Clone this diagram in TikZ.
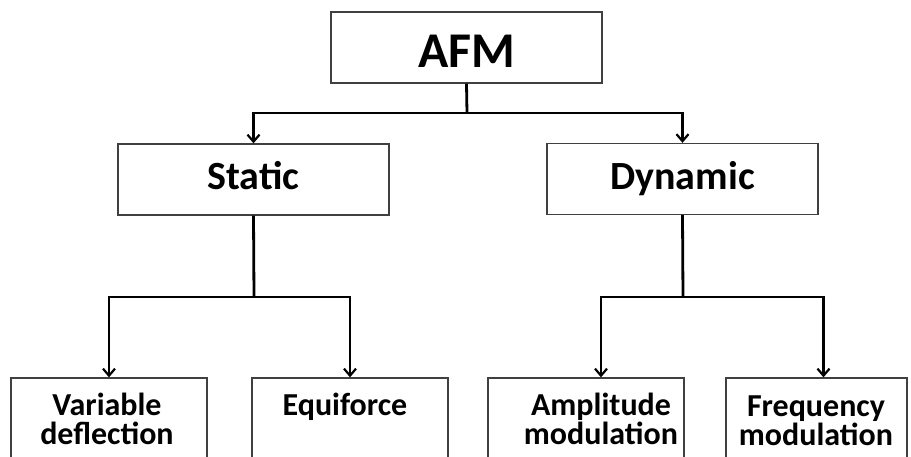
\documentclass[tikz,border=0pt]{standalone}
\usepackage{fontspec}
\setmainfont{Carlito}
\usetikzlibrary{arrows.meta}
\begin{document}
\begin{tikzpicture}[x=1pt,y=-1pt,
		box/.style={draw=black!75,line width=1.3pt,inner sep=0pt,minimum height=71pt},
		conn/.style={line width=2.8pt},
		arr/.style={conn,-{Straight Barb[length=7pt,width=12pt,line width=2.2pt]}},
		bigtext/.style={font=\bfseries\fontsize{50}{60}\selectfont,text height=45pt,text depth=5pt},
		midtext/.style={font=\bfseries\fontsize{40}{46}\selectfont,text height=27pt,text depth=6pt},
		lowtext/.style={font=\bfseries\fontsize{32}{28.5}\selectfont,align=center,anchor=north,inner sep=0pt}]
		\useasboundingbox (0,0) rectangle (911,457);
		\clip (0,0) rectangle (911,457);
		\node [box,minimum width=271pt,bigtext] (afm) at (466.5,47.5) {AFM};
		\node [box,minimum width=271pt,midtext] (static) at (253.5,179.5) {Static};
		\node [box,minimum width=271pt,midtext] (dynamic) at (682.5,179) {Dynamic};
		\node [box,minimum width=196pt,minimum height=100pt] (varbox) at (109,428) {};
		\node [box,minimum width=196pt,minimum height=100pt] (equibox) at (350,428) {};
		\node [box,minimum width=196pt,minimum height=100pt] (ampbox) at (586,428) {};
		\node [box,minimum width=181pt,minimum height=100pt] (freqbox) at (816.5,428) {};
		\node [lowtext] (var) at (107,393) {Variable\\deflection};
		\node [lowtext] (equi) at (345,393) {Equiforce};
		\node [lowtext] (amp) at (601,393) {Amplitude\\modulation};
		\node [lowtext] (freq) at (816,396) {Frequency\\modulation};
		\coordinate (top) at (467,113);
		\coordinate (left) at (254,297);
		\coordinate (right) at (683,297);
		\draw [conn] (afm.south) -- (top);
		\draw [arr] (top) -| (static.north);
		\draw [arr] (top) -| (dynamic.north);
		\draw [conn] (static.south) -- (left);
		\draw [arr] (left) -| (varbox.north);
		\draw [arr] (left) -| (equibox.north);
		\draw [conn] (dynamic.south) -- (right);
		\draw [arr] (right) -| (amp |- ampbox.north);
		\draw [arr] (right) -| ([xshift=7pt]freqbox.north);
\end{tikzpicture}
\end{document}
